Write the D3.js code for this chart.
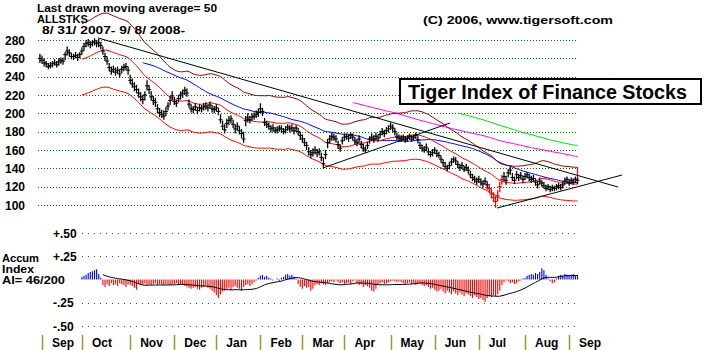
<!DOCTYPE html>
<html>
<head>
<meta charset="utf-8">
<script src="https://cdn.jsdelivr.net/npm/d3@7"></script>
<style>
  html, body { margin: 0; padding: 0; background: #fff; }
  svg { display: block; font-family: "Liberation Sans", Arial, sans-serif; font-weight: bold; }
</style>
</head>
<body>
<svg id="chart" width="704" height="350"></svg>
<script>
// ---- data -------------------------------------------------------------
// Month labels along the bottom and the number of trading days in each
// (the series opens with a single session, 8/31/2007, before September).
const monthNames = ["Sep", "Oct", "Nov", "Dec", "Jan", "Feb", "Mar", "Apr", "May", "Jun", "Jul", "Aug", "Sep"];
const monthDays  = [19, 23, 21, 20, 21, 20, 20, 22, 21, 21, 22, 21, 5];
const leadDays = 1;

const priceTicks = [100, 120, 140, 160, 180, 200, 220, 240, 260, 280];
const aiTicks = [0.5, 0.25, -0.25, -0.5];
const aiTickLabels = ["+.50", "+.25", "-.25", "-.50"];

// Daily closes, highs and lows of the index, 8/31/2007 - 9/8/2008
const closes = [
  260,258,255,254,251,252,254,255,253,256, 258,257,264,268,266,262,262,263,261,264,
  268,273,276,277,275,277,278,276,277,274, 268,262,257,250,246,248,245,247,243,248,
  250,251,247,236,232,229,226,222,218,215, 220,230,226,218,214,212,205,201,199,197,
  202,208,214,219,213,211,216,220,222,225, 222,210,205,204,207,203,206,205,207,208,
  206,209,205,204,206,202,193,186,182,189, 192,194,188,183,186,181,178,172,192,195,
  193,196,197,199,201,205,202,190,188,186, 183,184,181,182,184,183,180,182,185,183,
  184,181,184,180,176,172,168,165,158,155, 157,160,157,158,152,145,155,168,172,175,
  174,172,166,162,170,174,175,173,176,174, 170,168,172,166,162,160,165,172,174,172,
  175,173,177,180,178,181,183,186,184,180, 175,173,172,174,171,173,175,172,174,176,
  171,165,162,160,163,158,155,157,160,156, 154,150,146,142,140,143,147,150,148,144,
  141,143,139,141,138,133,130,128,126,128, 125,123,126,122,118,112,108,104,110,120,
  128,131,127,135,138,130,127,133,130,132, 128,131,133,130,128,129,125,122,126,124,
  121,118,120,117,119,118,120,121,119,122, 126,128,124,127,125,128,127
];
const highs = [
  265,263,260,257,255,256,257,259,257,260, 261,261,267,273,270,266,265,267,265,267,
  272,277,280,281,279,280,282,280,281,278, 273,266,262,255,251,252,250,251,248,252,
  254,255,251,242,238,234,231,227,223,220, 224,236,231,224,219,217,210,206,204,203,
  207,212,219,224,218,215,220,224,226,229, 227,215,210,208,211,207,210,209,211,212,
  210,213,209,208,210,206,199,192,188,194, 197,198,193,188,190,186,183,180,197,200,
  197,200,201,203,205,211,206,195,192,190, 187,188,185,186,187,187,184,186,188,187,
  188,185,187,184,180,177,173,169,163,160, 162,164,161,162,157,152,160,172,176,179,
  178,176,170,166,174,178,178,177,179,178, 174,172,176,170,167,164,169,175,178,176,
  179,177,181,184,182,185,187,190,188,184, 179,177,176,177,175,176,178,176,177,179,
  175,169,166,164,167,162,159,161,163,160, 158,154,150,147,144,147,151,153,152,148,
  145,147,143,145,142,137,134,132,130,132, 129,127,130,126,123,118,114,110,116,125,
  133,136,132,139,142,135,131,137,134,136, 132,135,136,134,132,133,129,126,130,127,
  125,122,123,121,122,121,123,124,123,126, 130,131,128,130,129,131,130
];
const lows = [
  255,254,251,250,248,249,250,252,250,252, 254,253,258,263,262,259,258,260,257,260,
  264,268,272,273,271,273,274,272,272,270, 264,257,253,246,242,244,241,243,239,244,
  246,247,242,232,228,224,222,217,213,210, 214,225,221,214,209,207,200,196,195,193,
  197,203,209,214,209,207,212,215,217,220, 218,206,201,200,203,199,202,201,203,204,
  202,205,201,200,202,198,189,182,178,184, 187,189,184,178,181,177,173,168,186,190,
  189,192,193,195,196,200,197,186,184,182, 179,180,178,178,180,179,177,178,181,179,
  180,177,180,176,171,168,164,160,154,151, 153,155,152,154,148,140,150,162,167,170,
  170,168,161,158,166,170,171,169,172,170, 166,164,168,162,158,157,161,167,170,168,
  171,169,173,176,174,177,179,182,180,176, 171,169,169,170,168,169,171,169,170,172,
  167,161,158,157,159,154,152,153,156,152, 151,146,142,139,137,139,143,146,144,140,
  137,139,136,137,134,129,126,124,122,124, 121,119,122,117,113,107,103,97,104,114,
  122,126,122,130,133,126,123,128,126,128, 124,127,129,126,124,125,121,118,122,120,
  118,115,116,114,115,115,116,117,116,118, 122,124,121,123,122,124,123
];
// sessions printed in red (closes below the lower band at the July low)
const redBarDays = [214, 215, 216, 217, 218, 219, 220];

// Accumulation Index, one value per session from session 20 on
const aiStart = 20;
const aiValues = [
  0.03,0.04,0.05,0.07,0.08,0.09,0.10,0.11,0.06,0.02,
  -0.06,-0.08,-0.05,-0.07,-0.04,-0.06,-0.05,-0.07,-0.04,-0.05,
  -0.06,-0.08,-0.05,-0.06,-0.07,-0.09,-0.11,-0.05,-0.06,-0.05,
  -0.04,-0.06,-0.05,-0.06,-0.05,-0.04,-0.06,-0.05,-0.05,-0.06,
  -0.05,-0.05,-0.06,-0.05,-0.05,-0.04,-0.06,-0.05,-0.06,-0.07,
  -0.08,-0.09,-0.10,-0.09,-0.08,-0.10,-0.11,-0.09,-0.08,-0.07,
  -0.09,-0.10,-0.12,-0.14,-0.17,-0.20,-0.16,-0.13,-0.12,-0.10,
  -0.09,-0.11,-0.08,-0.07,-0.09,-0.10,-0.12,-0.08,-0.06,-0.05,
  -0.07,-0.05,-0.03,-0.01,0.02,0.04,0.05,0.03,0.04,0.02,
  0.01,-0.01,0.00,0.01,-0.02,0.02,0.03,0.05,0.06,0.04,
  0.05,0.03,0.01,-0.05,-0.08,-0.10,-0.07,-0.09,-0.08,-0.12,
  -0.10,-0.06,-0.05,-0.06,-0.04,-0.05,-0.06,-0.04,-0.03,-0.02,
  -0.03,-0.01,-0.03,-0.04,-0.03,-0.05,-0.04,-0.03,-0.05,-0.02,
  -0.01,-0.04,-0.06,-0.05,-0.08,-0.06,-0.07,-0.09,-0.12,-0.13,
  -0.10,-0.05,-0.04,-0.03,-0.05,-0.04,-0.03,-0.02,-0.01,-0.02,
  -0.03,-0.02,-0.03,-0.04,-0.05,-0.04,-0.03,-0.05,-0.04,-0.06,
  -0.05,-0.04,-0.06,-0.07,-0.06,-0.08,-0.10,-0.09,-0.11,-0.13,
  -0.12,-0.10,-0.13,-0.15,-0.12,-0.14,-0.16,-0.13,-0.15,-0.17,
  -0.14,-0.16,-0.18,-0.15,-0.16,-0.18,-0.20,-0.17,-0.19,-0.21,
  -0.20,-0.22,-0.24,-0.20,-0.18,-0.19,-0.17,-0.18,-0.16,-0.12,
  -0.06,-0.03,-0.01,-0.02,-0.04,-0.03,-0.05,-0.04,-0.02,-0.01,
  0.01,0.02,0.04,0.05,0.06,0.05,0.07,0.06,0.08,0.12,
  0.10,0.05,0.01,-0.02,-0.04,-0.03,0.01,0.04,0.05,0.04,
  0.06,0.05,0.04,0.05,0.06,0.04,0.05
];

// Hand-drawn trend lines: [session, price] end points
const trendLines = [
  [[27.7, 282.2], [275.3, 119.6]],
  [[134.8, 140.4], [195.3, 189.5]],
  [[217.7, 96.7], [277.2, 132.7]]
];

// Moving averages and band width
const bandPeriod = 21, bandWidth = 0.15;
const maLines = [
  { period: 200, color: "#00e000" },
  { period: 150, color: "#ff00ff" },
  { period: 50,  color: "#0000ff" }
];

// ---- scales -----------------------------------------------------------
const svg = d3.select("#chart");
const n = closes.length;
const x = d3.scaleLinear().domain([0, n - 1]).range([39.9, 577.5]);
const y = d3.scaleLinear().domain([100, 280]).range([205, 40]);
const ya = d3.scaleLinear().domain([-0.5, 0.5]).range([326, 233]);

function sma(vals, p) {
  return vals.map((v, i) => i < p - 1 ? null : d3.mean(vals.slice(i - p + 1, i + 1)));
}

// ---- price panel grid and axis ----------------------------------------
svg.append("g").selectAll("line").data(priceTicks).join("line")
  .attr("x1", 38).attr("x2", 577)
  .attr("y1", d => Math.round(y(d)) + 0.5).attr("y2", d => Math.round(y(d)) + 0.5)
  .attr("stroke", "#008000").attr("stroke-width", 1).attr("stroke-dasharray", "1,2");

svg.append("g").selectAll("text").data(priceTicks).join("text")
  .attr("x", 25).attr("y", d => y(d) + 4.5)
  .attr("text-anchor", "end").attr("font-size", 12)
  .text(d => d);

// ---- header text ------------------------------------------------------
svg.append("text").attr("x", 37).attr("y", 12).attr("font-size", 11)
  .attr("textLength", 180).attr("lengthAdjust", "spacingAndGlyphs")
  .text("Last drawn moving average= 50");
svg.append("text").attr("x", 37).attr("y", 23).attr("font-size", 11)
  .attr("textLength", 51).attr("lengthAdjust", "spacingAndGlyphs")
  .text("ALLSTKS");
svg.append("text").attr("x", 42).attr("y", 34).attr("font-size", 11)
  .attr("textLength", 143).attr("lengthAdjust", "spacingAndGlyphs")
  .text("8/ 31/ 2007- 9/ 8/ 2008-");
svg.append("text").attr("x", 423).attr("y", 24).attr("font-size", 11)
  .attr("textLength", 190).attr("lengthAdjust", "spacingAndGlyphs")
  .text("(C) 2006, www.tigersoft.com");

// ---- moving averages and bands -----------------------------------------
const line = d3.line().defined(d => d[1] != null).x(d => x(d[0])).y(d => y(d[1]));
const ma21 = sma(closes, bandPeriod);

maLines.forEach(m => {
  const vals = sma(closes, m.period);
  svg.append("path").attr("d", line(vals.map((v, i) => [i, v])))
    .attr("fill", "none").attr("stroke", m.color).attr("stroke-width", 1);
});
svg.append("path").attr("d", line(ma21.map((v, i) => [i, v == null ? null : v * (1 + bandWidth)])))
  .attr("fill", "none").attr("stroke", "#8b0000").attr("stroke-width", 1);
svg.append("path").attr("d", line(ma21.map((v, i) => [i, v])))
  .attr("fill", "none").attr("stroke", "#ff0000").attr("stroke-width", 1);
svg.append("path").attr("d", line(ma21.map((v, i) => [i, v == null ? null : v * (1 - bandWidth)])))
  .attr("fill", "none").attr("stroke", "#ff0000").attr("stroke-width", 1);
// band closed at the last session
svg.append("line")
  .attr("x1", x(n - 1)).attr("x2", x(n - 1))
  .attr("y1", y(ma21[n - 1] * (1 + bandWidth))).attr("y2", y(ma21[n - 1]))
  .attr("stroke", "#ff0000").attr("stroke-width", 1.2);

// ---- trend lines --------------------------------------------------------
svg.append("g").selectAll("line").data(trendLines).join("line")
  .attr("x1", d => x(d[0][0])).attr("y1", d => y(d[0][1]))
  .attr("x2", d => x(d[1][0])).attr("y2", d => y(d[1][1]))
  .attr("stroke", "#000").attr("stroke-width", 1);

// ---- price bars ---------------------------------------------------------
const bars = svg.append("g");
closes.forEach((c, i) => {
  const col = redBarDays.includes(i) ? "#ff0000" : "#000";
  bars.append("line")
    .attr("x1", x(i)).attr("x2", x(i))
    .attr("y1", y(highs[i])).attr("y2", y(lows[i]))
    .attr("stroke", col).attr("stroke-width", 1.3);
  bars.append("line")
    .attr("x1", x(i) - 2).attr("x2", x(i) + 2)
    .attr("y1", y(c)).attr("y2", y(c))
    .attr("stroke", col).attr("stroke-width", 1);
});

// ---- title box ----------------------------------------------------------
svg.append("rect").attr("x", 400).attr("y", 79).attr("width", 301).attr("height", 25)
  .attr("fill", "#fff").attr("stroke", "#000").attr("stroke-width", 2);
svg.append("text").attr("x", 408).attr("y", 98.5).attr("font-size", 20)
  .attr("textLength", 279).attr("lengthAdjust", "spacingAndGlyphs")
  .text("Tiger Index of Finance Stocks");

// ---- accumulation index panel ---------------------------------------------
svg.append("g").selectAll("line").data(aiTicks).join("line")
  .attr("x1", 82).attr("x2", 576)
  .attr("y1", d => Math.round(ya(d)) + 0.5).attr("y2", d => Math.round(ya(d)) + 0.5)
  .attr("stroke", "#444").attr("stroke-width", 1).attr("stroke-dasharray", "1,5");

svg.append("g").selectAll("text").data(aiTicks).join("text")
  .attr("x", 53).attr("y", d => ya(d) + 4.5).attr("font-size", 12)
  .text((d, k) => aiTickLabels[k]);

svg.append("text").attr("x", 2).attr("y", 261.5).attr("font-size", 10)
  .attr("textLength", 37).attr("lengthAdjust", "spacingAndGlyphs").text("Accum");
svg.append("text").attr("x", 2).attr("y", 272.5).attr("font-size", 10)
  .attr("textLength", 32).attr("lengthAdjust", "spacingAndGlyphs").text("Index");
svg.append("text").attr("x", 2).attr("y", 284).attr("font-size", 10)
  .attr("textLength", 63).attr("lengthAdjust", "spacingAndGlyphs").text("AI= 46/200");

svg.append("g").selectAll("line").data(aiValues).join("line")
  .attr("x1", (d, k) => x(aiStart + k)).attr("x2", (d, k) => x(aiStart + k))
  .attr("y1", ya(0)).attr("y2", d => ya(d))
  .attr("stroke", d => d >= 0 ? "#0000ff" : "#ff0000").attr("stroke-width", 1.1);

// smoothed AI (21-session average, drawn once 11 sessions are available)
const aiAvg = aiValues.map((v, k) => k < 10 ? null : d3.mean(aiValues.slice(Math.max(0, k - 20), k + 1)));
svg.append("path")
  .attr("d", d3.line().defined(d => d[1] != null).x(d => x(d[0])).y(d => ya(d[1]))(aiAvg.map((v, k) => [aiStart + k, v])))
  .attr("fill", "none").attr("stroke", "#000").attr("stroke-width", 1);

// ---- month axis -------------------------------------------------------------
let start = leadDays;
const months = monthNames.map((m, k) => { const s = start; start += monthDays[k]; return { name: m, s }; });
svg.append("g").selectAll("line").data(months).join("line")
  .attr("x1", d => Math.round(x(d.s)) + 0.5).attr("x2", d => Math.round(x(d.s)) + 0.5)
  .attr("y1", 335).attr("y2", 350)
  .attr("stroke", "#999933").attr("stroke-width", 1.5);
svg.append("g").selectAll("text").data(months).join("text")
  .attr("x", d => x(d.s) + 10).attr("y", 346.5).attr("font-size", 12)
  .text(d => d.name);
</script>
</body>
</html>
